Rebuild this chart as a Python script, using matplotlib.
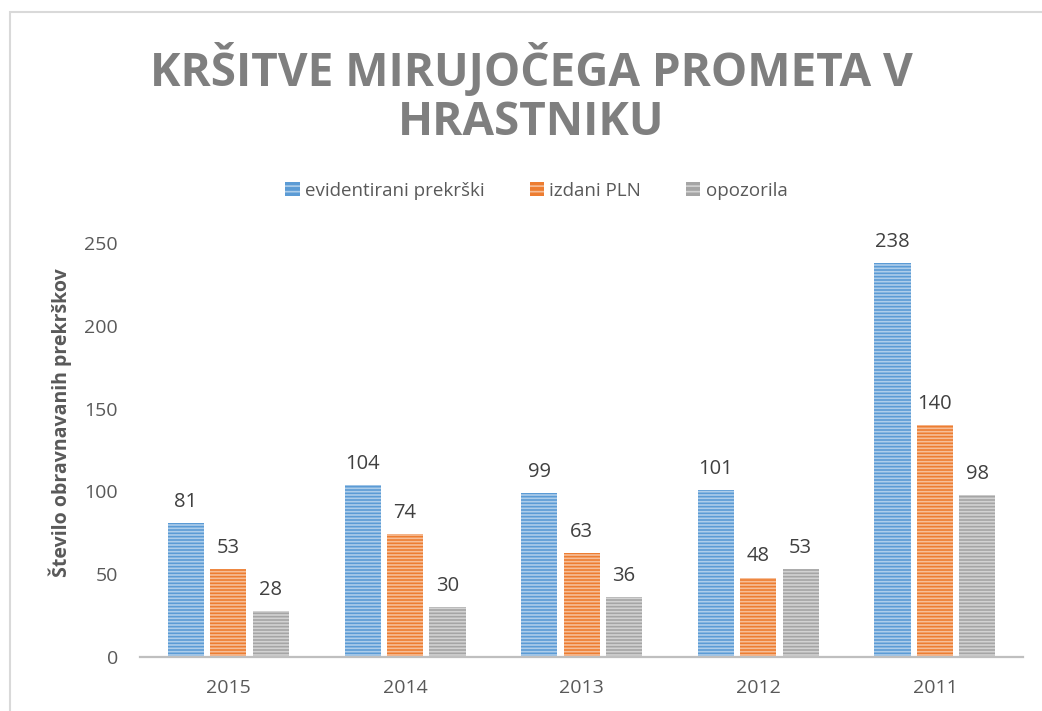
import matplotlib.pyplot as plt
import matplotlib.patches as mpatches
import numpy as np

years = ['2015', '2014', '2013', '2012', '2011']
evidentirani = [81, 104, 99, 101, 238]
izdani_pln = [53, 74, 63, 48, 140]
opozorila = [28, 30, 36, 53, 98]
series_names = ['evidentirani prekrški', 'izdani PLN', 'opozorila']
series_colors = ['#5b9bd5', '#ed7d31', '#a5a5a5']

plt.rcParams['font.family'] = ['Open Sans', 'DejaVu Sans']
plt.rcParams['hatch.linewidth'] = 1.2
plt.rcParams['hatch.color'] = 'white'

fig = plt.figure(figsize=(10.42, 7.11), dpi=100)
ax = fig.add_axes([0.1344, 0.076, 0.8476, 0.582])

x = np.arange(len(years))
width = 0.205
offsets = [-0.24, 0, 0.24]
handles = []
for vals, off, col, name in zip([evidentirani, izdani_pln, opozorila], offsets, series_colors, series_names):
    bars = ax.bar(x + off, vals, width, color=col, linewidth=0, label=name)
    # light horizontal stripes on top of the bars
    ax.bar(x + off, vals, width, fill=False, edgecolor=(1, 1, 1, 0.5), linewidth=0, hatch='-----')
    for b, v in zip(bars, vals):
        ax.annotate(str(v), (b.get_x() + b.get_width() / 2, v), xytext=(0, 8),
                    textcoords='offset points', ha='center', va='bottom',
                    fontsize=14.5, color='#404040')
    handles.append(mpatches.Patch(facecolor=col, edgecolor=(1, 1, 1, 0.5), hatch='---', linewidth=0, label=name))

ax.set_xlim(-0.5, len(years) - 0.5)
ax.set_ylim(0, 250)
ax.set_yticks([0, 50, 100, 150, 200, 250])
ax.set_xticks(x)
ax.set_xticklabels(years)
ax.tick_params(axis='both', length=0, labelsize=14, labelcolor='#595959')
ax.tick_params(axis='y', pad=16)
ax.tick_params(axis='x', pad=16)
for s in ['top', 'right', 'left']:
    ax.spines[s].set_visible(False)
ax.spines['bottom'].set_color('#bfbfbf')
ax.spines['bottom'].set_linewidth(1.6)

fig.text(0.058, 0.406, 'Število obravnavanih prekrškov', rotation=90, ha='center', va='center',
         fontsize=14, fontweight='bold', color='#595959')

fig.text(0.51, 0.902, 'KRŠITVE MIRUJOČEGA PROMETA V', ha='center', va='center',
         fontsize=33, fontweight='bold', color='#7f7f7f')
fig.text(0.51, 0.828, 'HRASTNIKU', ha='center', va='center',
         fontsize=33, fontweight='bold', color='#7f7f7f')

fig.legend(handles=handles, loc='center', bbox_to_anchor=(0.515, 0.732), ncol=3, frameon=False,
           fontsize=13.5, labelcolor='#595959', handlelength=0.75, handleheight=0.75,
           handletextpad=0.3, columnspacing=2.4)

# outer chart frame
frame = mpatches.Rectangle((10 / 1042, -0.1), 1.2, 1 - 12 / 711 + 0.1, transform=fig.transFigure,
                           fill=False, edgecolor='#d9d9d9', linewidth=1.5)
fig.patches.append(frame)

fig.savefig('out.png', dpi=100)
